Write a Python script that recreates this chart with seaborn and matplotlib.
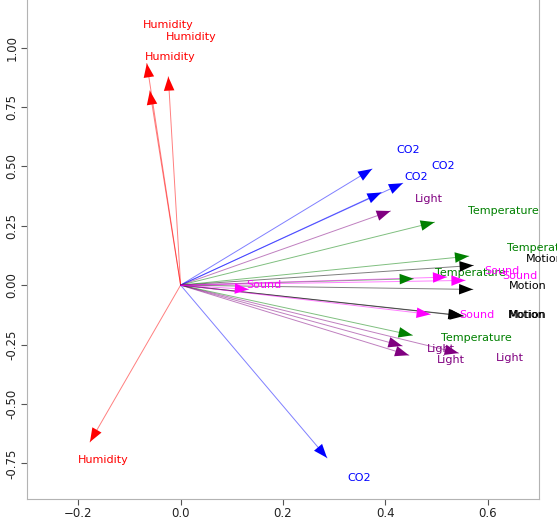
import numpy as np
import pandas as pd
import matplotlib
matplotlib.use("Agg")
import matplotlib.pyplot as plt
import seaborn as sns

# ------ DATA (loadings) ------ #

variables = ["Humidity", "CO2", "Light", "Temperature", "Motion", "Sound"]

hum_x = [-0.066, -0.060, -0.024, -0.177]
hum_y = [0.933, 0.818, 0.877, -0.660]
hum_lx = [-0.025, 0.021, -0.0195, -0.151]
hum_ly = [1.095, 1.046, 0.961, -0.734]

co2_x = [0.374, 0.392, 0.434, 0.286]
co2_y = [0.489, 0.390, 0.429, -0.727]
co2_lx = [0.444, 0.460, 0.512, 0.349]
co2_ly = [0.570, 0.454, 0.500, -0.813]

light_x = [0.410, 0.433, 0.446, 0.543]
light_y = [0.312, -0.256, -0.295, -0.286]
light_lx = [0.485, 0.509, 0.527, 0.643]
light_ly = [0.363, -0.267, -0.313, -0.307]

temp_x = [0.496, 0.563, 0.455, 0.453]
temp_y = [0.265, 0.122, 0.027, -0.211]
temp_lx = [0.630, 0.706, 0.566, 0.577]
temp_ly = [0.314, 0.155, 0.050, -0.221]

motion_x = [0.572, 0.571, 0.553, 0.550]
motion_y = [0.083, -0.018, -0.130, -0.128]
motion_lx = [0.712, 0.678, 0.676, 0.678]
motion_ly = [0.111, -0.005, -0.127, -0.127]

sound_x = [0.133, 0.520, 0.556, 0.488]
sound_y = [-0.018, 0.034, 0.020, -0.123]
sound_lx = [0.163, 0.628, 0.663, 0.578]
sound_ly = [-0.001, 0.059, 0.038, -0.127]

colors = {
    "Humidity": "red",
    "CO2": "blue",
    "Light": "purple",
    "Temperature": "green",
    "Motion": "black",
    "Sound": "magenta",
}

# ------ BUILD TABLES ------ #

tips = pd.DataFrame({
    "var": np.repeat(variables, 4),
    "x": hum_x + co2_x + light_x + temp_x + motion_x + sound_x,
    "y": hum_y + co2_y + light_y + temp_y + motion_y + sound_y,
    "lx": hum_lx + co2_lx + light_lx + temp_lx + motion_lx + sound_lx,
    "ly": hum_ly + co2_ly + light_ly + temp_ly + motion_ly + sound_ly,
})
tips["id"] = np.arange(len(tips))

origin = tips.copy()
origin["x"] = 0.0
origin["y"] = 0.0
segments = pd.concat([origin, tips], ignore_index=True)

# ------ PLOT ------ #

sns.set_style("white")
plt.rcParams["font.family"] = ["DejaVu Sans"]

fig = plt.figure(figsize=(5.57, 5.19), dpi=100)
ax = fig.add_axes([27 / 557, 20 / 519, 512 / 557, 499 / 519])

sns.lineplot(data=segments, x="x", y="y", hue="var", units="id",
             estimator=None, sort=False, palette=colors,
             lw=0.7, alpha=0.5, legend=False, ax=ax)

for _, r in tips.iterrows():
    c = colors[r["var"]]
    ax.annotate("", xy=(r["x"], r["y"]), xytext=(0, 0),
                arrowprops=dict(arrowstyle="-|>,head_length=1.0,head_width=0.38",
                                mutation_scale=10, lw=0, color=c,
                                shrinkA=0, shrinkB=0))
    ax.text(r["lx"], r["ly"], r["var"], color=c, fontsize=8,
            ha="center", va="center")

ax.set_xlim(-0.3, 0.7)
ax.set_ylim(-0.9, 1.2)
ax.set_xticks([-0.2, 0.0, 0.2, 0.4, 0.6])
ax.set_yticks([-0.75, -0.5, -0.25, 0.0, 0.25, 0.5, 0.75, 1.0])
ax.yaxis.set_major_formatter(matplotlib.ticker.FormatStrFormatter("%.2f"))
ax.set_xlabel("")
ax.set_ylabel("")

for side in ["left", "bottom", "right"]:
    ax.spines[side].set_color("#b3b3b3")
ax.spines["top"].set_visible(False)
ax.tick_params(axis="both", length=4, width=0.8, color="#555555",
               labelsize=8.5, labelcolor="#222222", bottom=True, left=True, pad=2)
plt.setp(ax.get_yticklabels(), rotation=90, va="center")

fig.savefig("out.png", dpi=100)
